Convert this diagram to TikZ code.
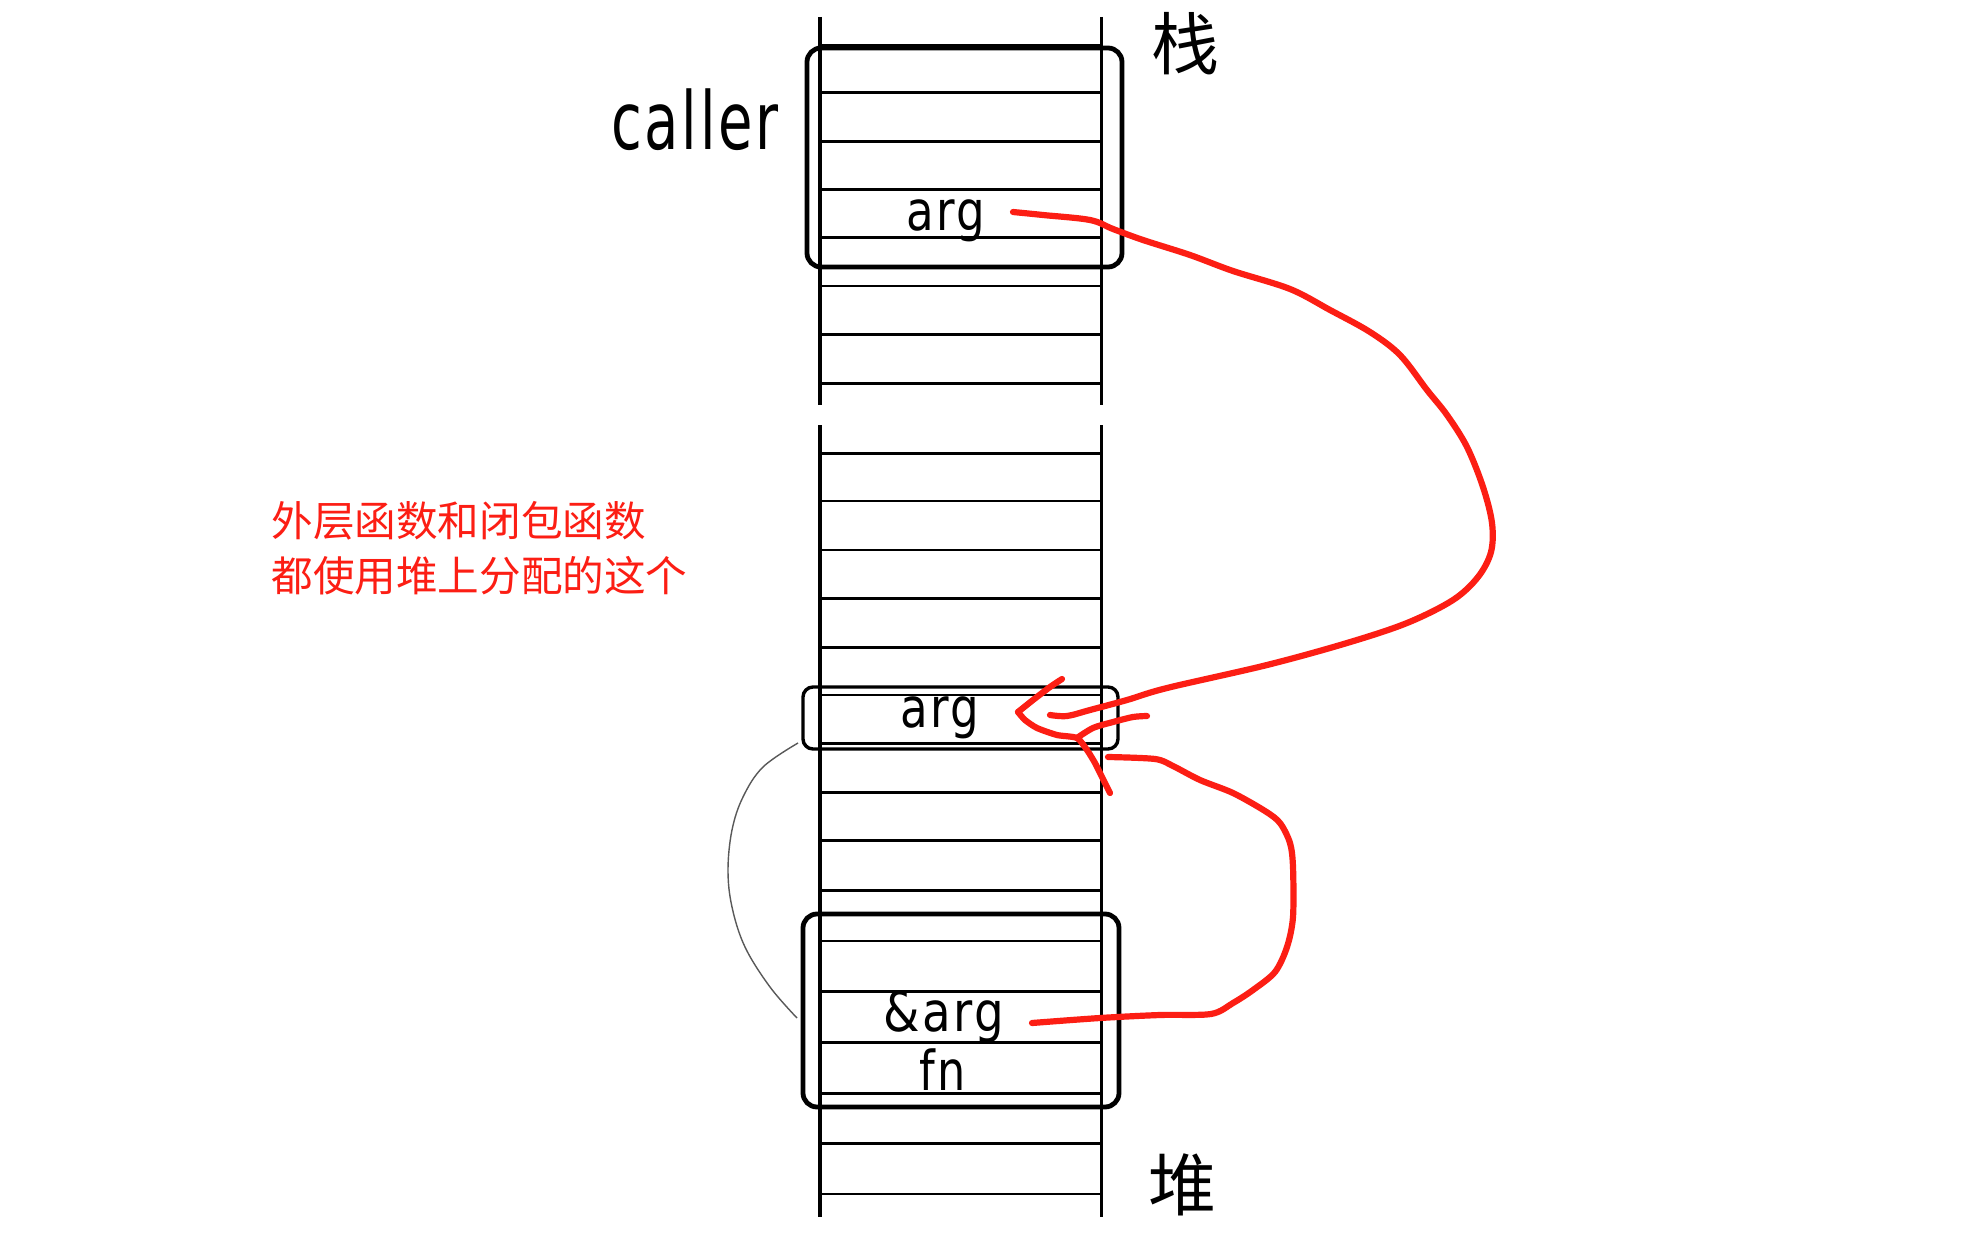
\documentclass[tikz,border=0pt]{standalone}
\usepackage{fontspec}
\usepackage{graphicx}
\newfontfamily\cjk{Noto Sans CJK SC}
\newfontfamily\hand[LetterSpace=5]{DejaVu Sans}
\definecolor{pen}{RGB}{252,30,20}
\begin{document}
\begin{tikzpicture}[x=0.5pt,y=-0.5pt,
  colline/.style={line width=1.6pt},
  rowline/.style={line width=1.45pt},
  bigbox/.style={draw, line width=2.4pt, rounded corners=7pt, inner sep=0pt},
  smallbox/.style={draw, line width=1.7pt, rounded corners=5pt, inner sep=0pt},
  redpen/.style={draw=pen, line width=3.1pt, line cap=round, line join=round},
  thinarc/.style={draw=black!65, line width=0.7pt},
  hwtext/.style={inner sep=0pt, font=\hand\fontsize{27.5pt}{27.5pt}\selectfont},
  bigtext/.style={inner sep=0pt, font=\hand\fontsize{40pt}{40pt}\selectfont},
  cjktext/.style={inner sep=0pt, font=\cjk\fontsize{34pt}{34pt}\selectfont},
  note/.style={inner sep=0pt, text=pen, font=\cjk\fontsize{20.8pt}{20.8pt}\selectfont},
]
\useasboundingbox (0,0) rectangle (1971,1247);
\fill[white] (0,0) rectangle (1971,1247);

% stack column (top) and heap column (bottom)
\draw[colline] (820,17) -- (820,405) (1101.5,17) -- (1101.5,405);
\draw[colline] (820,425) -- (820,1217) (1101.5,425) -- (1101.5,1217);
\foreach \y in {45,92.7,141.7,189.3,237.7,286,334.3,383.3}
  \draw[rowline] (820,\y) -- (1101.5,\y);
\foreach \y in {453.3,501,550,598.3,647.3,695,743.3,792.7,840.7,890.7,941,991.7,1042.7,1093.3,1143.3,1194}
  \draw[rowline] (820,\y) -- (1101.5,\y);

% frames
\node[bigbox, minimum width=157.5pt, minimum height=109.5pt] (callerbox) at (964.5,157.5) {};
\node[smallbox, minimum width=157.5pt, minimum height=31pt] (argbox) at (960.5,718) {};
\node[bigbox, minimum width=158pt, minimum height=96.5pt] (closurebox) at (961,1010.5) {};

% labels
\node[bigtext, anchor=base] (caller) at (695,149) {\scalebox{0.70}[1]{caller}};
\node[hwtext, anchor=base] (argtop) at (946,230) {\scalebox{0.82}[1]{arg}};
\node[hwtext, anchor=base] (argheap) at (940,727) {\scalebox{0.82}[1]{arg}};
\node[hwtext, anchor=base] (refarg) at (944,1031) {\scalebox{0.85}[1]{\&arg}};
\node[hwtext, anchor=base] (fn) at (943,1090) {\scalebox{0.81}[1]{fn}};
\node[cjktext] (stack) at (1185,44) {栈};
\node[cjktext] (heap) at (1182,1185) {堆};
\node[note, anchor=base west] (note1) at (271,536) {外层函数和闭包函数};
\node[note, anchor=base west] (note2) at (271,591) {都使用堆上分配的这个};

% thin arc linking heap arg to closure
\coordinate (arcA) at (798,743);
\coordinate (arcB) at (797,1018);
\draw[thinarc] plot[smooth, tension=0.6] coordinates {(arcA) (763,767) (743,797) (732,830) (728,870) (732,907) (745,947) (770,987) (arcB)};

% red connector: stack arg -> heap arg
\coordinate (s1) at (1013,212);
\coordinate (e1) at (1050,715);
\draw[redpen] plot[smooth, tension=0.55] coordinates {(s1) (1043,215) (1090,220) (1113,229) (1143,240) (1190,255) (1233,271) (1290,289) (1330,310) (1370,332) (1400,355) (1427,390) (1447,415) (1467,447) (1483,487) (1492,523) (1491,552) (1478,577) (1453,600) (1407,623) (1347,643) (1267,665) (1167,688) (1127,700) (1090,710) (1067,716) (e1)};

% arrow head strokes
\coordinate (tip) at (1018,712);
\coordinate (fork) at (1077,738);
\draw[redpen] plot[smooth, tension=0.4] coordinates {(1062,679) (1050,687) (1033,700) (tip)};
\draw[redpen] plot[smooth, tension=0.4] coordinates {(tip) (1025,720) (1037,728) (1057,735) (fork) (1087,750) (1095,763) (1102,777) (1110,793)};
\draw[redpen] plot[smooth, tension=0.5] coordinates {(fork) (1093,728) (1113,722) (1133,717) (1147,716)};

% red connector: &arg -> heap arg
\coordinate (s2) at (1032,1023);
\coordinate (e2) at (1108,757);
\draw[redpen] plot[smooth, tension=0.5] coordinates {(s2) (1100,1018) (1160,1015) (1211,1014) (1233,1003) (1253,990) (1275,972) (1287,947) (1293,917) (1293,867) (1290,843) (1280,823) (1265,811) (1233,793) (1200,780) (1173,766) (1155,759) (e2)};
\end{tikzpicture}
\end{document}
